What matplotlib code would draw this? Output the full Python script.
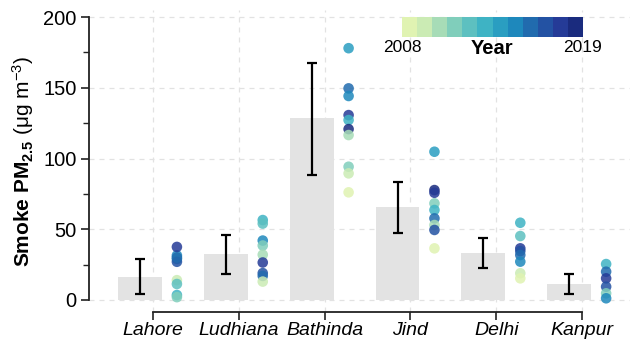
import numpy as np
import matplotlib
matplotlib.use("Agg")
import matplotlib.pyplot as plt
from matplotlib.colors import ListedColormap, BoundaryNorm

plt.rcParams['font.family'] = ['Liberation Sans', 'DejaVu Sans']
plt.rcParams['mathtext.fontset'] = 'custom'
plt.rcParams['mathtext.rm'] = 'Liberation Sans'
plt.rcParams['mathtext.bf'] = 'Liberation Sans:bold'
plt.rcParams['mathtext.it'] = 'Liberation Sans:italic'

# ---------------- data ----------------
cities = ["Lahore", "Ludhiana", "Bathinda", "Jind", "Delhi", "Kanpur"]
bar_means = [16.5, 32.5, 128.5, 65.5, 33.5, 11.5]
err_low = [4.2, 18.4, 88.0, 47.6, 22.8, 4.5]
err_high = [29.0, 46.0, 167.5, 83.2, 43.6, 18.2]

years_all = list(range(2008, 2020))

lahore_years = [2009, 2012, 2013, 2011, 2015, 2014, 2017, 2016, 2018]
lahore_vals = [14.0, 11.3, 3.5, 2.0, 31.5, 29.0, 27.0, 30.0, 37.5]

ludhiana_years = [2013, 2012, 2015, 2011, 2010, 2018, 2017, 2016, 2009]
ludhiana_vals = [56.5, 54.0, 42.0, 38.5, 32.0, 26.5, 19.0, 17.0, 13.0]

bathinda_years = [2014, 2016, 2015, 2018, 2013, 2019, 2010, 2011, 2009, 2008]
bathinda_vals = [178.0, 149.6, 144.2, 130.7, 127.2, 120.8, 116.6, 94.2, 89.5, 76.1]

jind_years = [2014, 2019, 2018, 2011, 2013, 2016, 2010, 2017, 2008]
jind_vals = [104.8, 77.7, 75.8, 68.3, 63.6, 57.7, 53.0, 49.5, 36.5]

delhi_years = [2013, 2012, 2018, 2017, 2016, 2015, 2009, 2008]
delhi_vals = [54.6, 45.2, 36.5, 34.6, 31.8, 27.1, 18.9, 15.3]

kanpur_years = [2013, 2016, 2018, 2017, 2011, 2015]
kanpur_vals = [25.4, 20.0, 15.3, 9.4, 4.7, 1.2]

dot_years = [lahore_years, ludhiana_years, bathinda_years, jind_years, delhi_years, kanpur_years]
dot_vals = [lahore_vals, ludhiana_vals, bathinda_vals, jind_vals, delhi_vals, kanpur_vals]

y_ticks = [0, 50, 100, 150, 200]

# ---------------- style ----------------
base = plt.get_cmap("YlGnBu")
colors = [base(v) for v in np.linspace(0.17, 0.92, len(years_all))]
cmap = ListedColormap(colors)
norm = BoundaryNorm(np.arange(2007.5, 2020.5, 1), cmap.N)

fig = plt.figure(figsize=(6.39, 3.47), dpi=100)
ax = fig.add_axes([89/639, (347-312)/347, 541/639, 302/347])

x = np.arange(1, len(cities) + 1)
bar_off = -0.15
dot_off = 0.28

ax.bar(x + bar_off, bar_means, width=0.51, color="#e3e3e3", zorder=2)
yerr = [np.array(bar_means) - np.array(err_low), np.array(err_high) - np.array(bar_means)]
ax.errorbar(x + bar_off, bar_means, yerr=yerr, fmt="none", ecolor="black",
            elinewidth=1.6, capsize=3.8, capthick=1.6, zorder=3)

for i, (yrs, vals) in enumerate(zip(dot_years, dot_vals)):
    xs = np.full(len(vals), x[i] + dot_off)
    ax.scatter(xs, vals, c=yrs, cmap=cmap, norm=norm, s=58, alpha=0.85,
               edgecolors="none", zorder=4)

ax.set_xlim(0.256, 6.558)
ax.set_ylim(-8.5, 205)

ax.set_xticks(x)
ax.set_xticklabels(cities, fontsize=14, style="italic")
ax.set_yticks(y_ticks)
ax.set_yticklabels([str(t) for t in y_ticks], fontsize=14.5)
ax.set_yticks([25, 75, 125, 175], minor=True)

ax.grid(True, which="major", color="#e2e2e2", linestyle=(0, (4, 4)), linewidth=0.9, zorder=0)
ax.set_axisbelow(True)

for s in ["top", "right"]:
    ax.spines[s].set_visible(False)
ax.spines["left"].set_bounds(0, 200)
ax.spines["bottom"].set_bounds(1, 6)
for s in ["left", "bottom"]:
    ax.spines[s].set_linewidth(1.3)
    ax.spines[s].set_color("#222222")

ax.tick_params(axis="y", which="major", length=6, width=1.2, pad=3, color="#222222")
ax.tick_params(axis="y", which="minor", length=4, width=1.0, color="#222222")
ax.tick_params(axis="x", which="major", length=6, width=1.2, pad=1.5, color="#222222")

ax.set_ylabel(r"$\mathbf{Smoke\ PM_{2.5}}$ (μg m$^{-3}$)", fontsize=15, labelpad=5)

# ---------------- colour legend ----------------
cax = fig.add_axes([402/639, (347-37)/347, 181/639, 20/347])
cax.pcolormesh(np.arange(2007.5, 2020.5, 1), [0, 1],
               np.array([years_all]), cmap=cmap, norm=norm)
cax.set_xlim(2007.5, 2019.5)
cax.set_axis_off()

fig.text(402/639, 1 - 47/347, "2008", ha="center", va="center", fontsize=12.5)
fig.text(583/639, 1 - 47/347, "2019", ha="center", va="center", fontsize=12.5)
fig.text(492/639, 1 - 49/347, "Year", ha="center", va="center", fontsize=14.5, fontweight="bold")

fig.savefig("out.png", dpi=100)
